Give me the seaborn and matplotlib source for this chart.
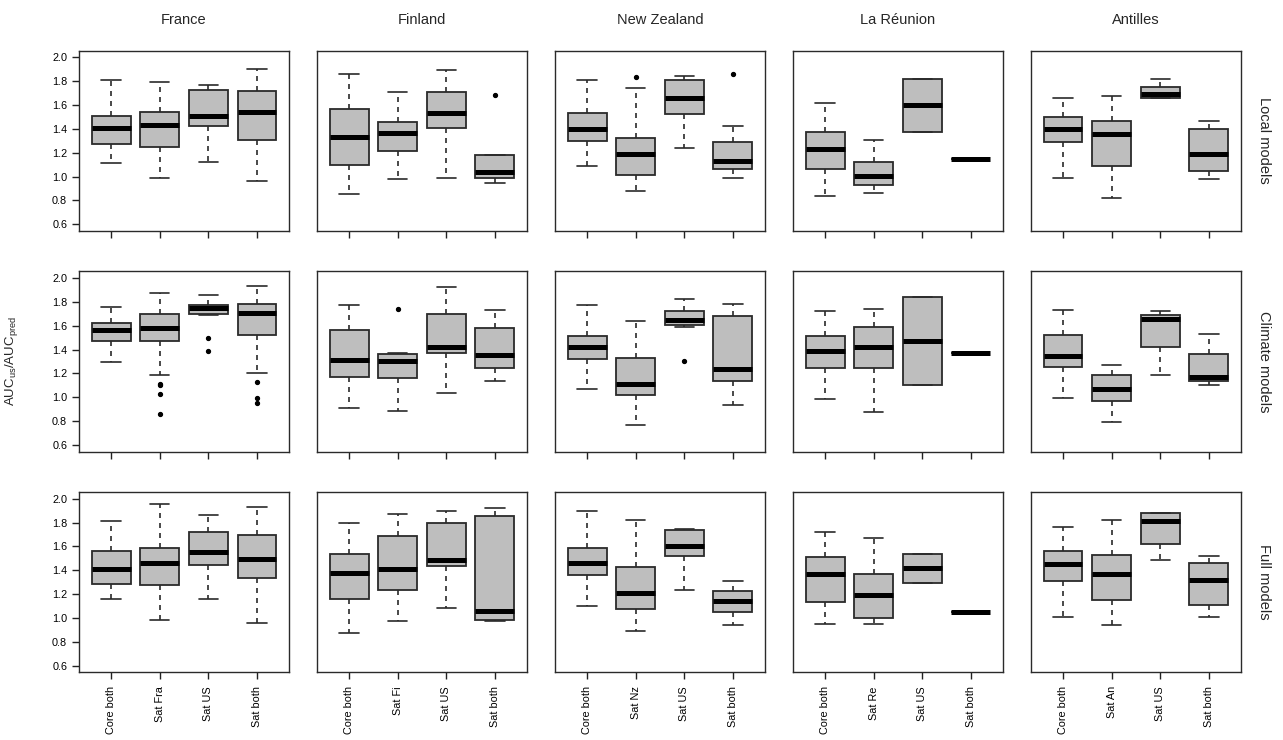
import matplotlib
matplotlib.use("Agg")
import matplotlib.pyplot as plt
import seaborn as sns
import pandas as pd

# ---------------- data ----------------
regions = ["France", "Finland", "New Zealand", "La Réunion", "Antilles"]
models = ["Local models", "Climate models", "Full models"]

groups_france = ["Core both", "Sat Fra", "Sat US", "Sat both"]
groups_finland = ["Core both", "Sat Fi", "Sat US", "Sat both"]
groups_nz = ["Core both", "Sat Nz", "Sat US", "Sat both"]
groups_reunion = ["Core both", "Sat Re", "Sat US", "Sat both"]
groups_antilles = ["Core both", "Sat An", "Sat US", "Sat both"]

# each row: (lower whisker, Q1, median, Q3, upper whisker)
france_local = [(1.11, 1.27, 1.41, 1.51, 1.81), (0.99, 1.245, 1.43, 1.545, 1.79),
                (1.125, 1.42, 1.51, 1.73, 1.77), (0.96, 1.31, 1.54, 1.72, 1.905)]
france_climate = [(1.297, 1.47, 1.565, 1.62, 1.76), (1.186, 1.47, 1.585, 1.70, 1.873),
                  (1.69, 1.70, 1.75, 1.774, 1.859), (1.20, 1.525, 1.71, 1.785, 1.935)]
france_full = [(1.16, 1.285, 1.41, 1.558, 1.81), (0.986, 1.273, 1.465, 1.586, 1.96),
               (1.16, 1.448, 1.55, 1.718, 1.862), (0.96, 1.338, 1.496, 1.696, 1.935)]

finland_local = [(0.85, 1.097, 1.335, 1.57, 1.857), (0.976, 1.212, 1.369, 1.46, 1.708),
                 (0.99, 1.408, 1.537, 1.708, 1.896), (0.948, 0.985, 1.038, 1.184, 1.184)]
finland_climate = [(0.907, 1.17, 1.316, 1.562, 1.771), (0.884, 1.158, 1.305, 1.362, 1.37),
                   (1.037, 1.373, 1.424, 1.698, 1.924), (1.136, 1.246, 1.356, 1.585, 1.734)]
finland_full = [(0.876, 1.16, 1.38, 1.535, 1.797), (0.972, 1.237, 1.408, 1.685, 1.873),
                (1.085, 1.437, 1.485, 1.794, 1.899), (0.975, 0.986, 1.062, 1.859, 1.921)]

nz_local = [(1.086, 1.30, 1.40, 1.537, 1.806), (0.875, 1.01, 1.187, 1.324, 1.745),
            (1.237, 1.523, 1.655, 1.806, 1.846), (0.987, 1.063, 1.128, 1.288, 1.422)]
nz_climate = [(1.071, 1.322, 1.418, 1.511, 1.771), (0.771, 1.023, 1.113, 1.333, 1.636),
              (1.59, 1.605, 1.65, 1.723, 1.825), (0.935, 1.136, 1.237, 1.686, 1.785)]
nz_full = [(1.101, 1.361, 1.462, 1.586, 1.899), (0.887, 1.073, 1.206, 1.425, 1.825),
           (1.237, 1.521, 1.60, 1.738, 1.749), (0.938, 1.048, 1.144, 1.223, 1.31)]

reunion_local = [(0.839, 1.066, 1.234, 1.374, 1.613), (0.864, 0.926, 1.007, 1.125, 1.31),
                 (1.374, 1.374, 1.599, 1.82, 1.82), (1.15, 1.15, 1.15, 1.15, 1.15)]
reunion_climate = [(0.986, 1.246, 1.387, 1.511, 1.723), (0.873, 1.246, 1.424, 1.588, 1.737),
                   (1.099, 1.099, 1.469, 1.839, 1.839), (1.373, 1.373, 1.373, 1.373, 1.373)]
reunion_full = [(0.952, 1.135, 1.366, 1.51, 1.721), (0.952, 0.997, 1.189, 1.372, 1.673),
                (1.296, 1.296, 1.42, 1.535, 1.535), (1.051, 1.051, 1.051, 1.051, 1.051)]

antilles_local = [(0.99, 1.29, 1.40, 1.50, 1.66), (0.82, 1.09, 1.36, 1.47, 1.68),
                  (1.66, 1.66, 1.69, 1.75, 1.82), (0.98, 1.05, 1.19, 1.40, 1.47)]
antilles_climate = [(0.99, 1.25, 1.35, 1.52, 1.73), (0.79, 0.97, 1.07, 1.19, 1.27),
                    (1.19, 1.42, 1.66, 1.69, 1.72), (1.10, 1.14, 1.17, 1.36, 1.53)]
antilles_full = [(1.01, 1.31, 1.45, 1.56, 1.76), (0.94, 1.15, 1.37, 1.53, 1.82),
                 (1.49, 1.62, 1.81, 1.88, 1.88), (1.01, 1.11, 1.32, 1.46, 1.52)]

# outlying points per box
france_climate_out = [[], [1.11, 1.10, 1.03, 0.856], [1.497, 1.384], [1.13, 0.99, 0.955]]
finland_local_out = [[], [], [], [1.686]]
finland_climate_out = [[], [1.74], [], []]
nz_local_out = [[], [1.835], [], [1.863]]
nz_climate_out = [[], [], [1.308], []]

panels = {
    ("France", "Local models"): (groups_france, france_local, None),
    ("France", "Climate models"): (groups_france, france_climate, france_climate_out),
    ("France", "Full models"): (groups_france, france_full, None),
    ("Finland", "Local models"): (groups_finland, finland_local, finland_local_out),
    ("Finland", "Climate models"): (groups_finland, finland_climate, finland_climate_out),
    ("Finland", "Full models"): (groups_finland, finland_full, None),
    ("New Zealand", "Local models"): (groups_nz, nz_local, nz_local_out),
    ("New Zealand", "Climate models"): (groups_nz, nz_climate, nz_climate_out),
    ("New Zealand", "Full models"): (groups_nz, nz_full, None),
    ("La Réunion", "Local models"): (groups_reunion, reunion_local, None),
    ("La Réunion", "Climate models"): (groups_reunion, reunion_climate, None),
    ("La Réunion", "Full models"): (groups_reunion, reunion_full, None),
    ("Antilles", "Local models"): (groups_antilles, antilles_local, None),
    ("Antilles", "Climate models"): (groups_antilles, antilles_climate, None),
    ("Antilles", "Full models"): (groups_antilles, antilles_full, None),
}

rows = []
for (reg, mod), (grp, stats, outs) in panels.items():
    for i, (g_name, s) in enumerate(zip(grp, stats)):
        rows.append(dict(region=reg, model=mod, group=g_name, pos=i + 1,
                         lo=s[0], q1=s[1], med=s[2], q3=s[3], hi=s[4],
                         fliers=(outs[i] if outs else [])))
df = pd.DataFrame(rows)

# ---------------- style ----------------
sns.set_theme(style="ticks")
plt.rcParams["font.family"] = ["Liberation Sans", "DejaVu Sans"]
plt.rcParams["axes.edgecolor"] = "#222222"
plt.rcParams["axes.linewidth"] = 1.0
plt.rcParams["xtick.color"] = "#222222"
plt.rcParams["ytick.color"] = "#222222"
plt.rcParams["xtick.labelcolor"] = "black"
plt.rcParams["ytick.labelcolor"] = "black"

BOX_FILL = "#BEBEBE"
EDGE = "#2a2a2a"


def draw_panel(data, **kws):
    ax = plt.gca()
    data = data.sort_values("pos")
    stats = [dict(whislo=r.lo, q1=r.q1, med=r.med, q3=r.q3, whishi=r.hi,
                  fliers=list(r.fliers), label=r.group) for r in data.itertuples()]
    ax.bxp(stats, positions=data["pos"].tolist(), widths=0.8, capwidths=0.4,
           patch_artist=True, manage_ticks=False,
           boxprops=dict(facecolor=BOX_FILL, edgecolor=EDGE, linewidth=1.3),
           medianprops=dict(color="black", linewidth=3.6, solid_capstyle="butt"),
           whiskerprops=dict(color=EDGE, linewidth=1.2, linestyle=(0, (3, 3))),
           capprops=dict(color=EDGE, linewidth=1.2),
           flierprops=dict(marker="o", markersize=2.8, markerfacecolor="black",
                           markeredgecolor="black", linestyle="none"))


g = sns.FacetGrid(df, row="model", col="region", row_order=models, col_order=regions,
                  sharex=False, sharey=False, despine=False, height=2.2, aspect=1.15)
g.map_dataframe(draw_panel)

fig = g.figure
fig.set_size_inches(12.83, 7.40)
W, H = 1283, 740
fig.subplots_adjust(left=79 / W, right=1241 / W, top=1 - 50.7 / H, bottom=1 - 672.3 / H,
                    wspace=0.133, hspace=0.225)

grp_lists = {"France": groups_france, "Finland": groups_finland, "New Zealand": groups_nz,
             "La Réunion": groups_reunion, "Antilles": groups_antilles}

for ri, mod in enumerate(models):
    for ci, reg in enumerate(regions):
        ax = g.axes[ri, ci]
        ax.set_title("")
        ax.set_xlabel("")
        ax.set_ylabel("")
        ax.set_xlim(0.34, 4.66)
        ax.set_ylim(0.544, 2.056)
        ax.set_xticks([1, 2, 3, 4])
        ax.set_yticks([0.6, 0.8, 1.0, 1.2, 1.4, 1.6, 1.8, 2.0])
        ax.set_yticklabels([f"{v:.1f}" for v in [0.6, 0.8, 1.0, 1.2, 1.4, 1.6, 1.8, 2.0]],
                           fontsize=7.8)
        ax.tick_params(axis="both", length=5, width=1.0, direction="out")
        if ri == len(models) - 1:
            ax.set_xticklabels(grp_lists[reg], rotation=90, fontsize=7.8)
            ax.tick_params(axis="x", pad=5)
        else:
            ax.tick_params(axis="x", labelbottom=False)
        if ci > 0:
            ax.tick_params(axis="y", left=False, labelleft=False)
        if ri == 0:
            ax.set_title(reg, fontsize=10.5, pad=19)
        if ci == len(regions) - 1:
            ax.text(1.11, 0.5, mod, transform=ax.transAxes, rotation=270,
                    ha="center", va="center", fontsize=10.5)
        for sp in ax.spines.values():
            sp.set_visible(True)
            sp.set_color(EDGE)

ax_mid = g.axes[1, 0]
ax_mid.set_ylabel(r"AUC$_{\mathregular{us}}$/AUC$_{\mathregular{pred}}$", fontsize=9.5)
ax_mid.yaxis.set_label_coords(-(79 - 20) / 210, 0.5)

fig.savefig("out.png", dpi=100)
